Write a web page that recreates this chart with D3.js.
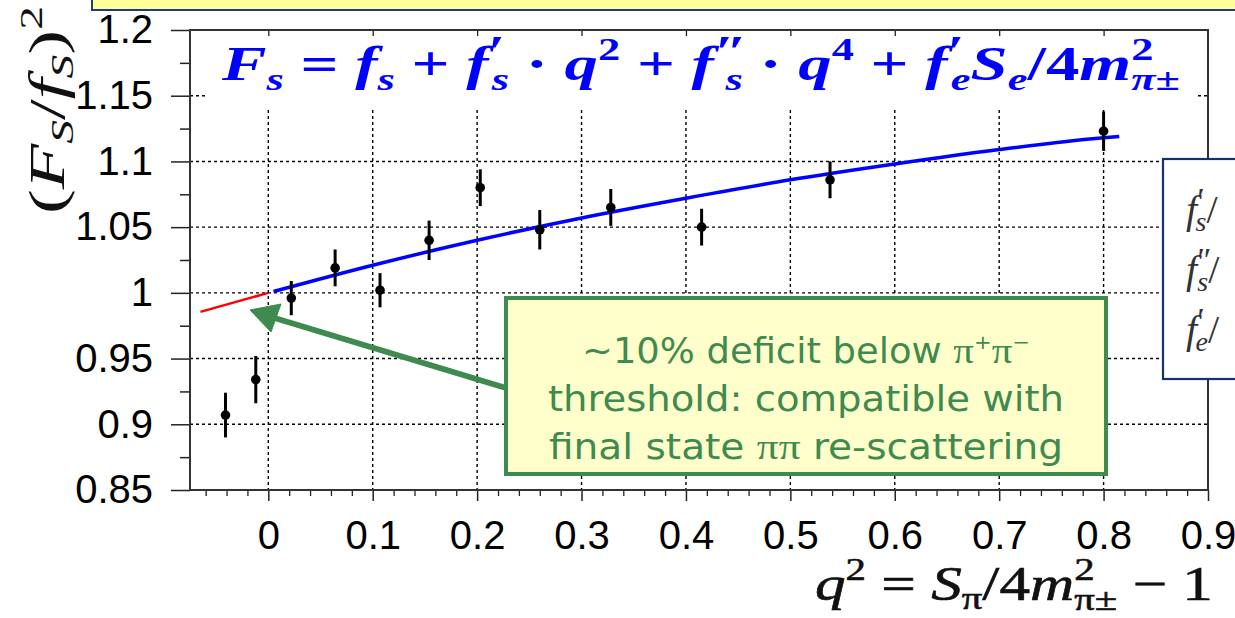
<!DOCTYPE html>
<html>
<head>
<meta charset="utf-8">
<script src="https://cdn.jsdelivr.net/npm/d3@7"></script>
<style>
  body { margin: 0; background: #fff; }
  svg { display: block; }
</style>
</head>
<body>
<svg id="chart" width="1235" height="618"></svg>
<script>
// Measured form-factor ratio per q^2 bin, with uncertainties
const qSquared        = [-0.041, -0.012, 0.022, 0.064, 0.107, 0.154, 0.203, 0.260, 0.328, 0.415, 0.538, 0.800];
const formFactorRatio = [ 0.907,  0.934, 0.996, 1.019, 1.002, 1.040, 1.080, 1.048, 1.065, 1.050, 1.086, 1.123];
const ratioError      = [ 0.017,  0.018, 0.013, 0.014, 0.013, 0.015, 0.014, 0.015, 0.014, 0.014, 0.014, 0.015];

// Fitted polynomial above threshold, sampled along q^2
const fitQ2    = [0.005, 0.1,   0.2,   0.3,   0.4,   0.5,   0.6,   0.7,   0.8,   0.815];
const fitValue = [1.001, 1.021, 1.040, 1.057, 1.072, 1.086, 1.098, 1.109, 1.118, 1.119];

// Extrapolation of the fit below the pi+pi- threshold
const extrapQ2    = [-0.065, 0];
const extrapValue = [0.9855, 1.0];

// Axis ticks
const xTickValues = [0, 0.1, 0.2, 0.3, 0.4, 0.5, 0.6, 0.7, 0.8, 0.9];
const yTickValues = [0.85, 0.9, 0.95, 1, 1.05, 1.1, 1.15, 1.2];
const xGridValues = [0, 0.1, 0.2, 0.3, 0.4, 0.5, 0.6, 0.7, 0.8];
const yGridValues = [0.9, 0.95, 1, 1.05, 1.1, 1.15];

const svg = d3.select("#chart");
const plotL = 190, plotR = 1208, plotT = 30, plotB = 490;

const x = d3.scaleLinear().domain([-0.075, 0.9]).range([plotL, plotR]);
const y = d3.scaleLinear().domain([0.85, 1.2]).range([plotB, plotT]);

const serif = "Liberation Serif, DejaVu Serif, serif";

// Writes a run of math-like pieces into one text element, moving the
// baseline with relative dy so the whole run stays a single text chunk.
function writeRun(textSel, parts) {
  let cur = 0;
  parts.forEach(p => {
    const ts = textSel.append("tspan").text(p.t);
    const off = p.off || 0;
    if (off !== cur) { ts.attr("dy", off - cur); cur = off; }
    if (p.dx) ts.attr("dx", p.dx);
    if (p.size) ts.attr("font-size", p.size);
    if (p.style) ts.attr("font-style", p.style);
    if (p.weight) ts.attr("font-weight", p.weight);
    if (p.family) ts.attr("font-family", p.family);
  });
}

// Title banner strip at the very top
svg.append("rect")
  .attr("x", 92).attr("y", -10).attr("width", 1170).attr("height", 20)
  .attr("fill", "#ffff99").attr("stroke", "#1f3b78").attr("stroke-width", 2);

// Dotted grid
const grid = svg.append("g")
  .attr("stroke", "#000").attr("stroke-width", 1.4)
  .attr("stroke-dasharray", "3,3");
grid.selectAll("line.v").data(xGridValues).join("line")
  .attr("class", "v")
  .attr("x1", d => x(d)).attr("x2", d => x(d))
  .attr("y1", 110).attr("y2", plotB);
grid.selectAll("line.h").data(yGridValues).join("line")
  .attr("class", "h")
  .attr("x1", plotL).attr("x2", plotR)
  .attr("y1", d => y(d)).attr("y2", d => y(d));

// White panel behind the fit formula
svg.append("rect")
  .attr("x", 205).attr("y", plotT + 1).attr("width", 990).attr("height", 77)
  .attr("fill", "#fff");

// Fit formula
const M = { size: 48, style: "italic" }, O = { size: 48, style: "normal" };
const SUB = { size: 32, style: "italic", off: 10 }, SUP = { size: 32, style: "normal", off: -20 };
const PR = { size: 44, style: "normal", off: -14 };
const formula = svg.append("text")
  .attr("x", 222).attr("y", 80)
  .attr("fill", "#0000ff")
  .attr("font-family", serif).attr("font-weight", "bold")
  .attr("textLength", 958).attr("lengthAdjust", "spacingAndGlyphs");
writeRun(formula, [
  { t: "F", ...M }, { t: "s", ...SUB }, { t: " = ", ...O }, { t: "f", ...M }, { t: "s", ...SUB },
  { t: " + ", ...O }, { t: "f", ...M }, { t: "\u2032", ...PR }, { t: "s", ...SUB, dx: -10 },
  { t: " \u00b7 ", ...O }, { t: "q", ...M }, { t: "2", ...SUP },
  { t: " + ", ...O }, { t: "f", ...M }, { t: "\u2033", ...PR }, { t: "s", ...SUB, dx: -16 },
  { t: " \u00b7 ", ...O }, { t: "q", ...M }, { t: "4", ...SUP },
  { t: " + ", ...O }, { t: "f", ...M }, { t: "\u2032", ...PR }, { t: "e", ...SUB, dx: -10 },
  { t: "S", ...M }, { t: "e", ...SUB }, { t: "/4", ...O }, { t: "m", ...M },
  { t: "2", ...SUP }, { t: "\u03c0\u00b1", ...SUB, dx: -16 }
]);

// Axes
const axisFont = "Liberation Sans, Arial, sans-serif";
const fmt = d => d3.format("~g")(d);

const xMinor = d3.range(-0.06, 0.9, 0.02).filter(v => Math.abs(v * 10 - Math.round(v * 10)) > 1e-6);
svg.append("g").attr("transform", `translate(0,${plotB})`)
  .call(d3.axisBottom(x).tickValues(xMinor).tickSize(6).tickSizeOuter(0).tickFormat(""))
  .call(g => g.select(".domain").remove())
  .call(g => g.selectAll("line").attr("stroke", "#222").attr("stroke-width", 1.3));
svg.append("g").attr("transform", `translate(0,${plotB})`)
  .call(d3.axisBottom(x).tickValues(xTickValues).tickSize(11).tickSizeOuter(0).tickPadding(20).tickFormat(fmt))
  .call(g => g.select(".domain").remove())
  .call(g => g.selectAll("line").attr("stroke", "#222").attr("stroke-width", 1.5))
  .call(g => g.selectAll("text").attr("font-family", axisFont).attr("font-size", 40).attr("fill", "#000"));

// Top frame ticks (inward)
svg.append("g").attr("transform", `translate(0,${plotT})`)
  .call(d3.axisTop(x).tickValues(xTickValues.slice(0, 9)).tickSize(-6).tickSizeOuter(0).tickFormat(""))
  .call(g => g.select(".domain").remove())
  .call(g => g.selectAll("line").attr("stroke", "#222").attr("stroke-width", 1.3));

const yMinor = [0.875, 0.925, 0.975, 1.025, 1.075, 1.125, 1.175];
svg.append("g").attr("transform", `translate(${plotL},0)`)
  .call(d3.axisLeft(y).tickValues(yMinor).tickSize(10).tickFormat(""))
  .call(g => g.select(".domain").remove())
  .call(g => g.selectAll("line").attr("stroke", "#222").attr("stroke-width", 1.5));
svg.append("g").attr("transform", `translate(${plotL},0)`)
  .call(d3.axisLeft(y).tickValues(yTickValues).tickSize(19).tickPadding(18).tickFormat(fmt))
  .call(g => g.select(".domain").remove())
  .call(g => g.selectAll("line").attr("stroke", "#222").attr("stroke-width", 1.5))
  .call(g => g.selectAll("text").attr("font-family", axisFont).attr("font-size", 40).attr("fill", "#000"));

// Plot frame
svg.append("rect")
  .attr("x", plotL).attr("y", plotT).attr("width", plotR - plotL).attr("height", plotB - plotT)
  .attr("fill", "none").attr("stroke", "#333").attr("stroke-width", 2);

// Extrapolated fit (red) and fit (blue)
const pairs = (xs, ys) => xs.map((v, i) => [v, ys[i]]);
const line = d3.line().x(d => x(d[0])).y(d => y(d[1])).curve(d3.curveMonotoneX);
svg.append("path").datum(pairs(extrapQ2, extrapValue))
  .attr("d", line).attr("fill", "none").attr("stroke", "#ff0000").attr("stroke-width", 2.5);
svg.append("path").datum(pairs(fitQ2, fitValue))
  .attr("d", line).attr("fill", "none").attr("stroke", "#0000ff").attr("stroke-width", 3.5);

// Data points with error bars
const pts = svg.append("g");
pts.selectAll("line").data(qSquared).join("line")
  .attr("x1", d => x(d)).attr("x2", d => x(d))
  .attr("y1", (d, i) => y(formFactorRatio[i] - ratioError[i]))
  .attr("y2", (d, i) => y(formFactorRatio[i] + ratioError[i]))
  .attr("stroke", "#000").attr("stroke-width", 3);
pts.selectAll("circle").data(qSquared).join("circle")
  .attr("cx", d => x(d)).attr("cy", (d, i) => y(formFactorRatio[i]))
  .attr("r", 4.8).attr("fill", "#000");

// X axis title
const xTitle = svg.append("text")
  .attr("x", 815).attr("y", 600)
  .attr("font-family", serif).attr("fill", "#111")
  .attr("font-size", 48).attr("stroke", "#111").attr("stroke-width", 0.6)
  .attr("textLength", 398).attr("lengthAdjust", "spacingAndGlyphs");
writeRun(xTitle, [
  { t: "q", style: "italic" }, { t: "2", size: 32, off: -20 }, { t: " = ", size: 48 },
  { t: "S", style: "italic", size: 48 }, { t: "\u03c0", size: 32, off: 9 }, { t: "/4", size: 48 },
  { t: "m", style: "italic", size: 48 }, { t: "2", size: 32, off: -20 },
  { t: "\u03c0\u00b1", size: 32, off: 10, dx: -16 }, { t: " \u2212 1", size: 48 }
]);

// Y axis title
const yTitle = svg.append("text")
  .attr("transform", "translate(64,214) rotate(-90)")
  .attr("font-family", serif).attr("fill", "#111").attr("font-size", 50)
  .attr("textLength", 208).attr("lengthAdjust", "spacingAndGlyphs");
writeRun(yTitle, [
  { t: "(" }, { t: "F", style: "italic" }, { t: "S", size: 32, off: 9, style: "italic" },
  { t: "/", size: 50 }, { t: "f", style: "italic", size: 50 }, { t: "S", size: 32, off: 9, style: "italic" },
  { t: ")", size: 50 }, { t: "2", size: 32, off: -22 }
]);

// Parameter box on the right (partly outside the view)
svg.append("rect")
  .attr("x", 1163).attr("y", 159).attr("width", 120).attr("height", 220)
  .attr("fill", "#fff").attr("stroke", "#14306e").attr("stroke-width", 2.2);
const params = [["\u2032", "s", 223], ["\u2033", "s", 283], ["\u2032", "e", 343]];
params.forEach(([p, s, by]) => {
  const t = svg.append("text").attr("x", 1186).attr("y", by)
    .attr("font-family", serif).attr("fill", "#333").attr("font-size", 40);
  writeRun(t, [
    { t: "f", style: "italic" }, { t: p, size: 34, off: -12 },
    { t: s, size: 28, off: 8, style: "italic", dx: p === "\u2033" ? -14 : -9 }, { t: "/", size: 40 }
  ]);
});

// Annotation: callout box with arrow to the threshold
const green = "#3f8a4f";
svg.append("line")
  .attr("x1", 506).attr("y1", 388).attr("x2", 268).attr("y2", 316)
  .attr("stroke", green).attr("stroke-width", 6);
svg.append("path")
  .attr("d", "M250,310 L281,304 L271,332 Z")
  .attr("fill", green).attr("stroke", green).attr("stroke-width", 1);
svg.append("rect")
  .attr("x", 506).attr("y", 298).attr("width", 600).attr("height", 176)
  .attr("fill", "#ffffcc").attr("stroke", green).attr("stroke-width", 4);
const noteFont = "DejaVu Sans Condensed, DejaVu Sans, sans-serif";
const piFont = "Liberation Serif, serif";
const note = [
  { parts: [{ t: "~10% deficit below " }, { t: "\u03c0", family: piFont }, { t: "+", size: 20, off: -14 },
            { t: "\u03c0", family: piFont }, { t: "\u2212", size: 20, off: -14 }], y: 363, w: 448 },
  { parts: [{ t: "threshold: compatible with" }], y: 411, w: 516 },
  { parts: [{ t: "final state " }, { t: "\u03c0\u03c0", family: piFont }, { t: " re-scattering" }], y: 459, w: 514 }
];
note.forEach(row => {
  const t = svg.append("text")
    .attr("x", 806).attr("y", row.y).attr("text-anchor", "middle")
    .attr("font-family", noteFont).attr("font-size", 35).attr("fill", green)
    .attr("textLength", row.w).attr("lengthAdjust", "spacingAndGlyphs");
  writeRun(t, row.parts);
});
</script>
</body>
</html>
